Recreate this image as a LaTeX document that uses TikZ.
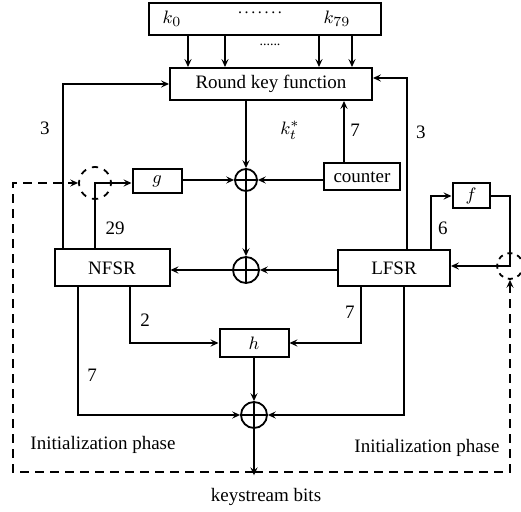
\documentclass[tikz,border=0pt]{standalone}
\usepackage{fontspec}
\setmainfont{Liberation Serif}
\usetikzlibrary{arrows.meta}

\begin{document}
\begin{tikzpicture}[
    x=0.5pt, y=-0.5pt,
    every node/.style={font=\fontsize{9.5}{11}\selectfont},
    blk/.style={rectangle, draw, line width=1pt, inner sep=0pt},
    xorgate/.style={circle, draw, line width=0.9pt, inner sep=0pt, minimum size=#1,
        path picture={\draw[line width=0.8pt] (path picture bounding box.north) -- (path picture bounding box.south)
            (path picture bounding box.west) -- (path picture bounding box.east);}},
    switch/.style={circle, draw, line width=0.9pt, inner sep=0pt},
    arr/.style={-{Stealth[length=4pt, width=3.6pt, inset=1.6pt]}, line width=0.8pt},
    initline/.style={line width=0.8pt, dash pattern=on 4.5pt off 3pt}
]
\useasboundingbox (0,0) rectangle (521,512);

% Key register
\node[blk, minimum width=116pt, minimum height=16pt] (keys) at (265,19) {};
\node (k0) at (172,19) {$k_0$};
\node (k79) at (337,19) {$k_{79}$};
\node[font=\footnotesize] (kdots) at (260,13) {.\,.\,.\,.\,.\,.\,.};
\node[font=\scriptsize] (rdots) at (270,45) {......};

% Blocks
\node[blk, minimum width=101pt, minimum height=16pt] (rkf) at (271,84) {Round key function};
\node[blk, minimum width=38pt, minimum height=13.5pt] (counter) at (362,177) {counter};
\node[blk, minimum width=24.5pt, minimum height=12pt] (g) at (157,181) {$g$};
\node[blk, minimum width=18.5pt, minimum height=12.5pt] (f) at (471,196) {$f$};
\node[blk, minimum width=57.5pt, minimum height=18.5pt] (nfsr) at (112,268) {NFSR};
\node[blk, minimum width=56pt, minimum height=18pt] (lfsr) at (394,268) {LFSR};
\node[blk, minimum width=34.5pt, minimum height=14pt] (h) at (254,343) {$h$};

% XOR gates and switches
\node[xorgate=11pt] (xor1) at (246,180) {};
\node[xorgate=13pt] (xor2) at (246,270) {};
\node[xorgate=13pt] (xor3) at (254,415) {};
\node[switch, minimum size=16pt, dash pattern=on 3.14pt off 3.14pt, dash phase=1.57pt] (sw1) at (95,183) {};
\node[switch, minimum size=13pt, dash pattern=on 2.55pt off 2.55pt, dash phase=1.28pt] (sw2) at (510,266) {};

% Output label
\node (ks) at (266,497) {keystream bits};
\node (initl) at (103,445) {Initialization phase};
\node (initr) at (427,448) {Initialization phase};

% Key bits into round key function
\foreach \x in {188,225,319,352}
    \draw[arr] (keys.south -| \x,0) -- (rkf.north -| \x,0);

% Round key function and counter
\draw[arr] (nfsr.north -| 63,0) |- (rkf.west);
\draw[arr] (lfsr.north -| 407,0) |- (rkf.east |- 0,78);
\draw[arr] (counter.north -| 344,0) -- (rkf.south -| 344,0);
\draw[arr] (rkf.south -| xor1.north) -- (xor1.north);
\draw[arr] (counter.west |- xor1.east) -- (xor1.east);
\draw[arr] (g.east |- xor1.west) -- (xor1.west);
\draw[arr] (xor1.south) -- (xor2.north);

% NFSR / LFSR feedback
\draw[arr] (nfsr.north -| sw1.center) -- (sw1.center) -- (g.west |- sw1.center);
\draw[arr] (lfsr.north -| 431,0) |- (f.west);
\draw[arr] (f.east) -| (sw2.center) -- (lfsr.east |- sw2.center);
\draw[arr] (lfsr.west |- xor2.east) -- (xor2.east);
\draw[arr] (xor2.west) -- (nfsr.east |- xor2.west);

% Filter h and output
\draw[arr] (nfsr.south -| 130,0) |- (h.west);
\draw[arr] (lfsr.south -| 361,0) |- (h.east);
\draw[arr] (h.south) -- (xor3.north);
\draw[arr] (nfsr.south -| 78,0) |- (xor3.west);
\draw[arr] (lfsr.south -| 404,0) |- (xor3.east);
\draw[arr, shorten >=3pt] (xor3.south) -- (xor3.south |- ks.north);

% Initialization feedback
\coordinate (tap) at (254,472);
\coordinate (lcorner) at (13,183);
\draw[initline, -{Stealth[length=4pt, width=3.6pt, inset=1.6pt]}] (tap) -| (lcorner) -- (sw1.west);
\draw[initline, -{Stealth[length=4pt, width=3.6pt, inset=1.6pt]}] (tap) -| (sw2.south);

% Labels
\node (l3a) at (45,128) {3};
\node (l3b) at (421,132) {3};
\node (l7a) at (355,130) {7};
\node (lkt) at (290,130) {$k_t^*$};
\node (l29) at (115,228) {29};
\node (l6) at (443,228) {6};
\node (l2) at (145,320) {2};
\node (l7b) at (350,312) {7};
\node (l7c) at (92,375) {7};

\end{tikzpicture}
\end{document}
